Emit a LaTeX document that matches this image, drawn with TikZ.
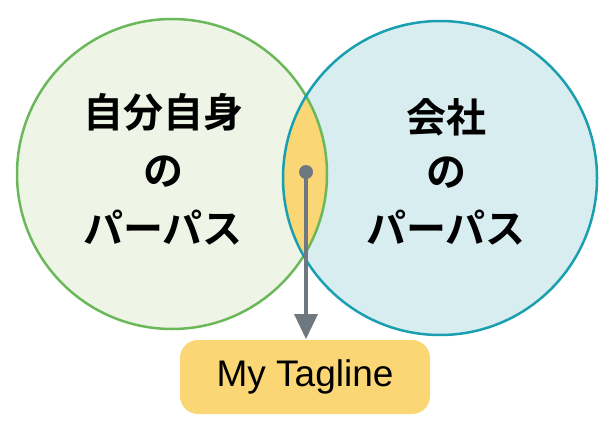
\documentclass[tikz,border=0pt]{standalone}
\usepackage{fontspec}
\setmainfont{Liberation Sans}
\newfontfamily\jp{Noto Sans CJK JP}[BoldFont=Noto Sans CJK JP Bold]
\definecolor{lg}{HTML}{6BB85A}\definecolor{lf}{HTML}{EFF5E6}
\definecolor{rg}{HTML}{1A9FB0}\definecolor{rf}{HTML}{D8EDF0}
\definecolor{yl}{HTML}{FAD674}\definecolor{gr}{HTML}{6E7880}
\begin{document}
\begin{tikzpicture}[x=1pt,y=-1pt,
 jt/.style={font=\jp\bfseries\fontsize{40}{44}\selectfont,align=center}]
\useasboundingbox (0,0) rectangle (609,428);
\fill[lf] (172,174) circle (155);
\fill[rf] (440,178) circle (157);
\begin{scope}\clip (172,174) circle (155);\fill[yl] (440,178) circle (157);\end{scope}
\draw[lg,line width=2.5] (172,174) circle (155);
\draw[rg,line width=2.5] (440,178) circle (157);
\node[jt] (l1) at (163,112) {自分自身};
\node[jt] (l2) at (163,172) {の};
\node[jt] (l3) at (163,228) {パーパス};
\node[jt] (r1) at (446,117) {会社};
\node[jt] (r2) at (446,173) {の};
\node[jt] (r3) at (446,228) {パーパス};
\node[fill=yl,rounded corners=18,minimum width=250,minimum height=74,font=\fontsize{37}{40}\selectfont] (t) at (305,377) {My Tagline};
\coordinate (d) at (306,172);
\fill[gr] (d) circle (7);
\draw[gr,line width=4] (d) -- (306,318);
\fill[gr] (294,314) -- (318,314) -- (306,339) -- cycle;
\end{tikzpicture}
\end{document}
